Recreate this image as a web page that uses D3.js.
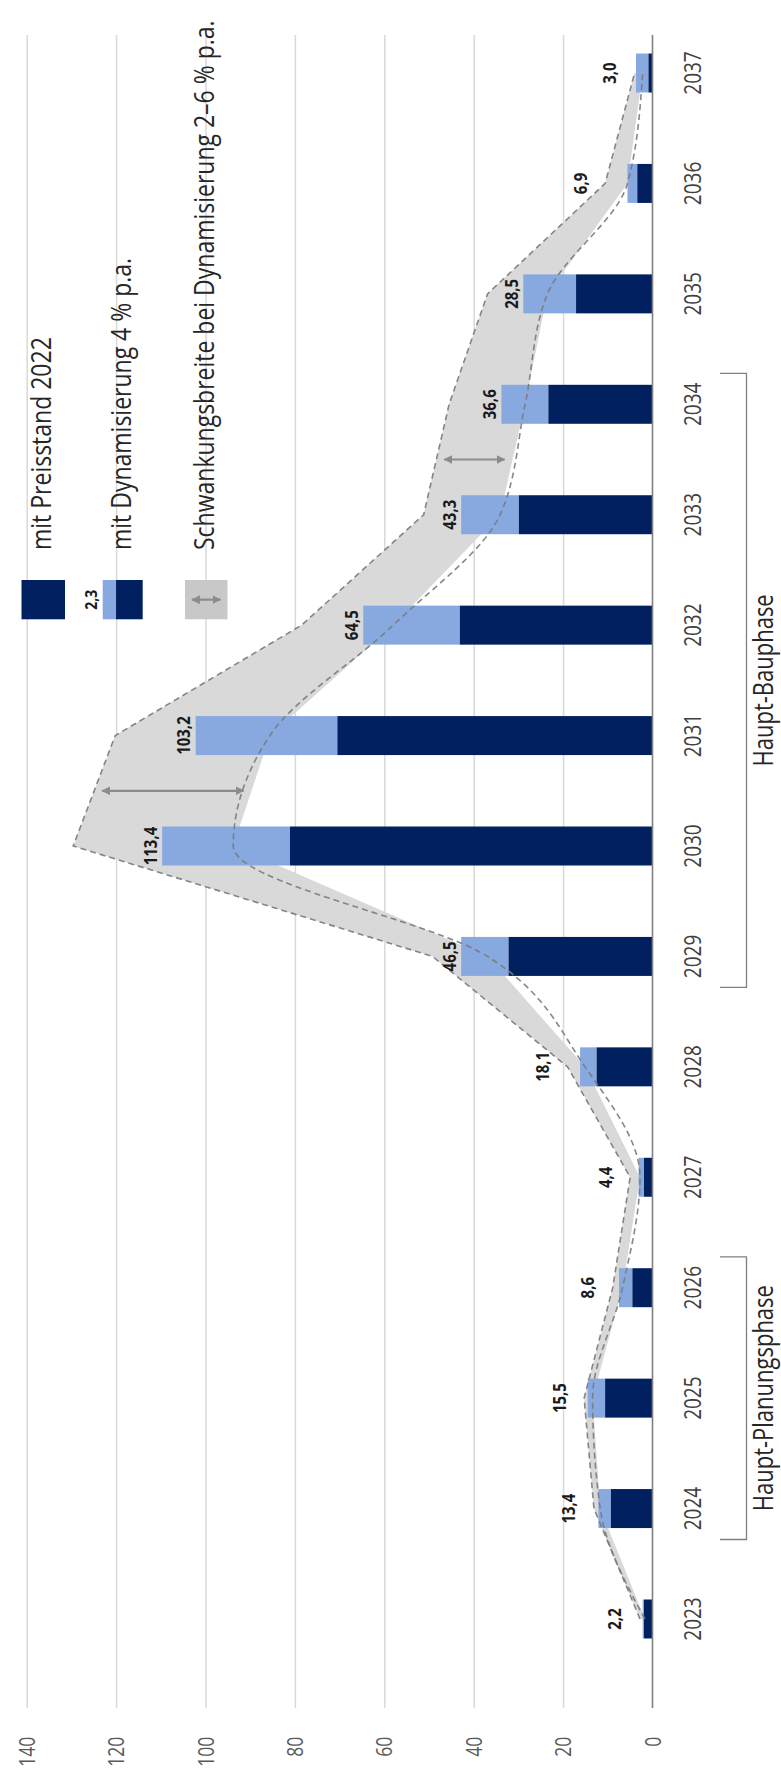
<!DOCTYPE html>
<html><head><meta charset="utf-8">
<script src="https://cdn.jsdelivr.net/npm/d3@7"></script>
<style>
html,body{margin:0;padding:0;background:#fff;}
svg{display:block;font-family:"Open Sans","Noto Sans",sans-serif;}
</style>
</head><body>
<svg id="chart" width="781" height="1772"></svg>
<script>
// ---------- data ----------
const years = ["2023","2024","2025","2026","2027","2028","2029","2030","2031","2032","2033","2034","2035","2036","2037"];
// Preisstand 2022 (dark part)
const preis2022 = [1.9, 9.3, 10.6, 4.5, 1.9, 12.5, 32.2, 81.1, 70.5, 43.1, 29.9, 23.3, 17.1, 3.4, 0.9];
// mit Dynamisierung 4 % p.a. (bar total as drawn)
const dyn4 = [2.2, 12.1, 14.5, 7.5, 3.1, 16.2, 42.8, 109.7, 102.2, 64.7, 42.8, 33.8, 28.9, 5.6, 3.7];
// printed value labels
const dyn4Labels = [2.2, 13.4, 15.5, 8.6, 4.4, 18.1, 46.5, 113.4, 103.2, 64.5, 43.3, 36.6, 28.5, 6.9, 3.0];
// Schwankungsbreite 2–6 % p.a.
const bandUpper = [2.8, 13.1, 15.3, 8.9, 5.0, 19.0, 49.2, 129.6, 120.2, 78.5, 51.2, 45.5, 36.9, 10.6, 4.0];
const bandLower = [1.7, 11.7, 13.4, 6.7, 2.8, 15.1, 36.9, 93.8, 85.6, 58.0, 34.1, 28.5, 23.5, 5.6, 2.2];
const valueTicks = [0, 20, 40, 60, 80, 100, 120, 140];
const phases = [
  {label: "Haupt-Planungsphase", from: "2024", to: "2026"},
  {label: "Haupt-Bauphase", from: "2029", to: "2034"}
];
const arrowPairs = [["2030","2031"], ["2033","2034"]];
const legendItems = ["mit Preisstand 2022", "mit Dynamisierung 4 % p.a.", "Schwankungsbreite bei Dynamisierung 2–6 % p.a."];
const legendSample = "2,3";

// ---------- setup ----------
const W = 781, H = 1772;
const S = 1.2; // glyph stretch across the value axis
const C_DARK = "#002060", C_LIGHT = "#87a9e0", C_BAND = "#d9d9d9";
const fmt = v => d3.format(".1f")(v).replace(".", ",");

const svg = d3.select("#chart");
const defs = svg.append("defs");
defs.append("marker").attr("id","ah").attr("viewBox","0 0 10 10").attr("refX",9).attr("refY",5)
  .attr("markerWidth",4).attr("markerHeight",4).attr("orient","auto-start-reverse")
  .attr("markerUnits","strokeWidth")
  .append("path").attr("d","M0,0 L10,5 L0,10 z").attr("fill","#8c8c8c");

// inner frame: u = along the years, v = down the value axis (rotated chart)
const g = svg.append("g").attr("transform", `translate(0,${H}) rotate(-90)`);

const x = d3.scaleBand().domain(years).range([97.8, 1754.2]).paddingInner(0.647).paddingOuter(0.3235);
const y = d3.scaleLinear().domain([0, 140]).range([652.5, 26.7]);
const cx = d => x(d) + x.bandwidth() / 2;
const GRID_U0 = 64, GRID_U1 = 1737;

// ---------- value axis + gridlines ----------
const yAxis = d3.axisLeft(y).tickValues(valueTicks).tickSizeInner(-(GRID_U1 - GRID_U0)).tickSizeOuter(0).tickPadding(28.7);
const ya = g.append("g").attr("transform", `translate(${GRID_U0},0)`).call(yAxis);
ya.select(".domain").remove();
ya.selectAll(".tick line").attr("stroke", d => d === 0 ? "none" : "#d9d9d9").attr("stroke-width", 1.5);
ya.selectAll(".tick text").attr("x", null).attr("dy", "0.36em")
  .attr("transform", `translate(-28.7,0) scale(1,${S})`)
  .attr("font-size", 17.5).attr("fill", "#595959").attr("font-family", "Open Sans");

// ---------- band (Schwankungsbreite) ----------
const bandData = years.map((yr, i) => ({yr, hi: bandUpper[i], lo: bandLower[i]}));
g.append("path").datum(bandData)
  .attr("d", d3.area().x(d => cx(d.yr)).y0(d => y(d.lo)).y1(d => y(d.hi)))
  .attr("fill", C_BAND);

// ---------- bars ----------
const barData = years.map((yr, i) => ({yr, base: preis2022[i], total: dyn4[i], label: dyn4Labels[i], hi: bandUpper[i]}));
g.append("g").selectAll("rect").data(barData).join("rect")
  .attr("x", d => x(d.yr)).attr("width", x.bandwidth())
  .attr("y", d => y(d.total)).attr("height", d => y(d.base) - y(d.total))
  .attr("fill", C_LIGHT);
g.append("g").selectAll("rect").data(barData).join("rect")
  .attr("x", d => x(d.yr)).attr("width", x.bandwidth())
  .attr("y", d => y(d.base)).attr("height", d => y(0) - y(d.base))
  .attr("fill", C_DARK);

// dashed borders of the band
const dashStyle = s => s.attr("fill", "none").attr("stroke", "#7a7a7a").attr("stroke-width", 1.6)
  .attr("stroke-dasharray", "6,4").attr("stroke-opacity", 0.9);
g.append("path").datum(bandData).attr("d", d3.line().x(d => cx(d.yr)).y(d => y(d.hi))).call(dashStyle);
g.append("path").datum(bandData).attr("d", d3.line().curve(d3.curveMonotoneX).x(d => cx(d.yr)).y(d => y(d.lo))).call(dashStyle);

// zero line
g.append("line").attr("x1", GRID_U0).attr("x2", GRID_U1).attr("y1", y(0)).attr("y2", y(0))
  .attr("stroke", "#7f7f7f").attr("stroke-width", 1.6);

// range arrows
arrowPairs.forEach(([a, b]) => {
  const ia = years.indexOf(a), ib = years.indexOf(b);
  const um = (cx(a) + cx(b)) / 2;
  const hi = (bandUpper[ia] + bandUpper[ib]) / 2, lo = (bandLower[ia] + bandLower[ib]) / 2;
  g.append("line").attr("x1", um).attr("x2", um).attr("y1", y(hi) + 8).attr("y2", y(lo) - 8)
    .attr("stroke", "#8c8c8c").attr("stroke-width", 2.2)
    .attr("marker-start", "url(#ah)").attr("marker-end", "url(#ah)");
});

// ---------- year axis ----------
const xAxis = d3.axisBottom(x).tickSize(0).tickPadding(0);
const xa = g.append("g").attr("transform", `translate(0,${y(0)})`).call(xAxis);
xa.select(".domain").remove();
xa.selectAll(".tick text").attr("y", null).attr("dy", "0.36em")
  .attr("transform", `translate(0,${692.5 - y(0)}) scale(1,${S})`)
  .attr("font-size", 19).attr("fill", "#404040").attr("font-family", "Open Sans");

// ---------- value labels ----------
g.append("g").selectAll("text").data(barData).join("text")
  .attr("transform", d => {
    const v = d.total >= 20 ? y(d.total) - 12 : y(d.hi) - 25;
    return `translate(${cx(d.yr)},${v}) scale(1,${S})`;
  })
  .attr("dy", "0.36em").attr("text-anchor", "middle")
  .attr("font-size", 15).attr("font-weight", 700).attr("fill", "#1a1a1a")
  .text(d => fmt(d.label));

// ---------- phase brackets ----------
phases.forEach(p => {
  const ext = x.step() * 0.28;
  const u0 = cx(p.from) - ext, u1 = cx(p.to) + ext;
  const vb = 746.5, vt = 720;
  g.append("path").attr("d", `M${u0},${vt} L${u0},${vb} L${u1},${vb} L${u1},${vt}`)
    .attr("fill", "none").attr("stroke", "#808080").attr("stroke-width", 1.3);
  g.append("text").attr("transform", `translate(${(u0 + u1) / 2},773) scale(1,${S})`)
    .attr("text-anchor", "middle").attr("font-size", 22).attr("fill", "#262626").text(p.label);
});

// ---------- legend ----------
const LG_U0 = 1152.7, LG_W = 39.3, LG_TEXT_U = 1222;
const rows = [[21.5, 65], [102.7, 142.7], [185, 227.5]];
const lg = g.append("g");
// item 1
lg.append("rect").attr("x", LG_U0).attr("width", LG_W).attr("y", rows[0][0]).attr("height", rows[0][1] - rows[0][0]).attr("fill", C_DARK);
// item 2
const split = rows[1][0] + (rows[1][1] - rows[1][0]) / 3;
lg.append("rect").attr("x", LG_U0).attr("width", LG_W).attr("y", rows[1][0]).attr("height", split - rows[1][0]).attr("fill", C_LIGHT);
lg.append("rect").attr("x", LG_U0).attr("width", LG_W).attr("y", split).attr("height", rows[1][1] - split).attr("fill", C_DARK);
lg.append("text").attr("transform", `translate(${LG_U0 + LG_W / 2},91) scale(1,${S})`)
  .attr("dy", "0.36em").attr("text-anchor", "middle").attr("font-size", 14).attr("font-weight", 700).attr("fill", "#1a1a1a")
  .text(legendSample);
// item 3
lg.append("rect").attr("x", LG_U0).attr("width", LG_W).attr("y", rows[2][0]).attr("height", rows[2][1] - rows[2][0]).attr("fill", "#c8c8c8");
lg.append("line").attr("x1", LG_U0 + LG_W / 2).attr("x2", LG_U0 + LG_W / 2).attr("y1", rows[2][0] + 7).attr("y2", rows[2][1] - 7)
  .attr("stroke", "#8c8c8c").attr("stroke-width", 2.2).attr("marker-start", "url(#ah)").attr("marker-end", "url(#ah)");
// texts
legendItems.forEach((t, i) => {
  const vc = (rows[i][0] + rows[i][1]) / 2;
  lg.append("text").attr("transform", `translate(${LG_TEXT_U},${vc + 8}) scale(1,${S})`)
    .attr("font-size", 23).attr("fill", "#262626").text(t);
});
</script>
</body></html>
